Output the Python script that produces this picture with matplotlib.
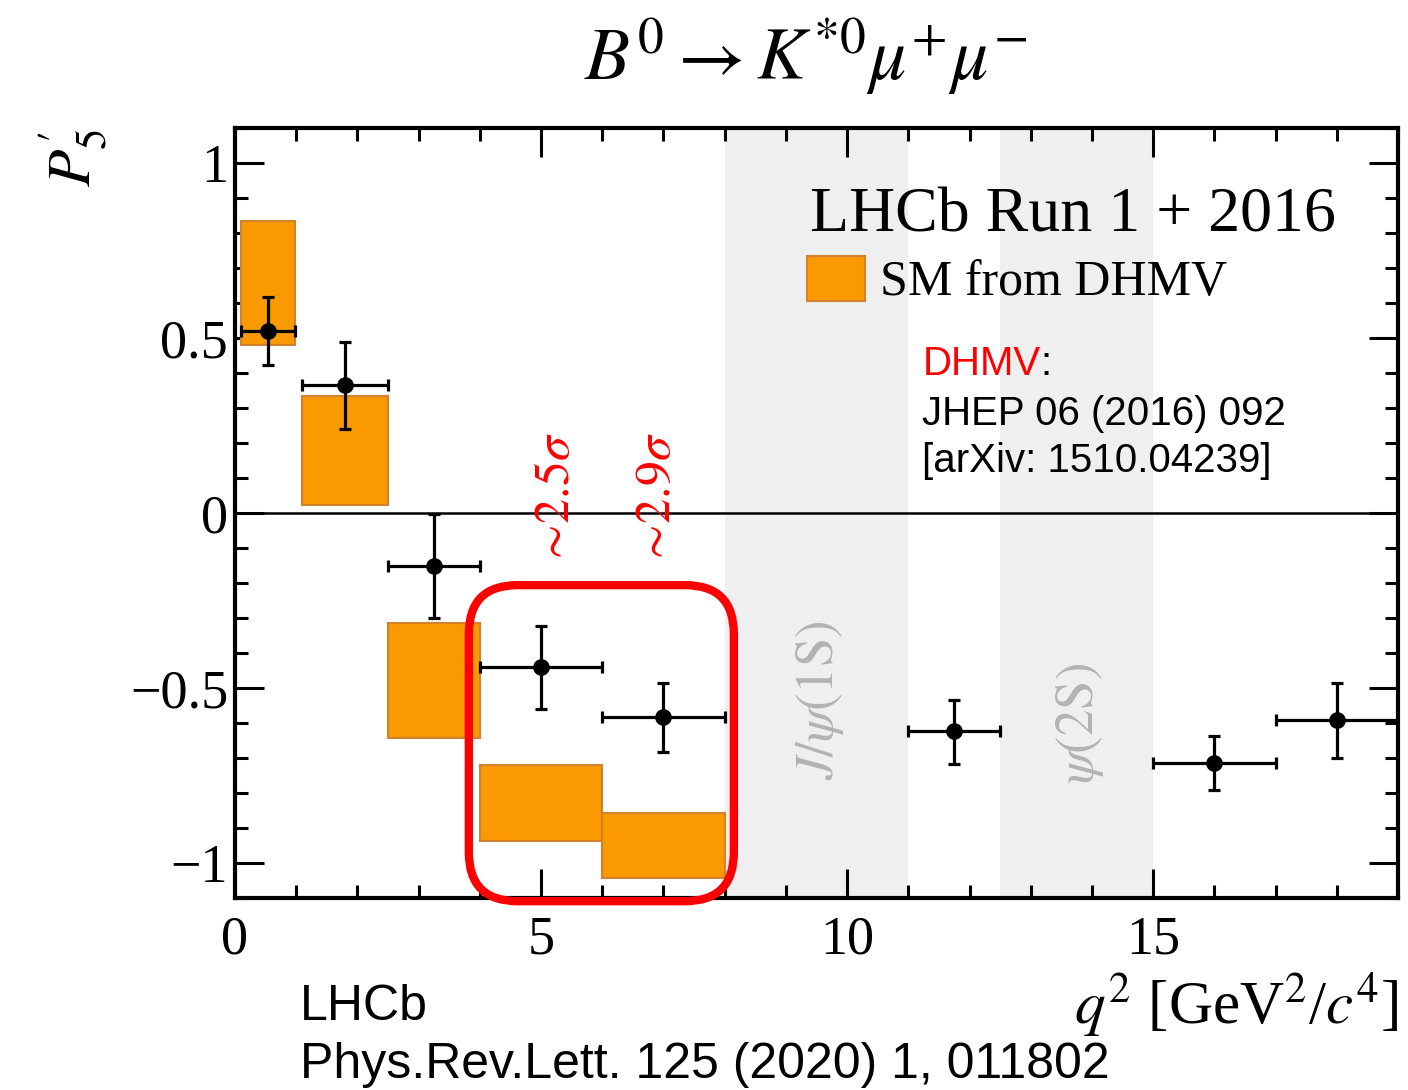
import numpy as np
import matplotlib.pyplot as plt
from matplotlib.patches import Rectangle, FancyBboxPatch, Patch
from matplotlib.ticker import MultipleLocator

plt.rcParams['font.family'] = ['Liberation Serif', 'DejaVu Serif']
plt.rcParams['mathtext.fontset'] = 'stix'

# LHCb measurement: q2 bins, P5' and asymmetric uncertainties
bin_lo = [0.1, 1.1, 2.5, 4.0, 6.0, 11.0, 15.0, 17.0]
bin_hi = [0.98, 2.5, 4.0, 6.0, 8.0, 12.5, 17.0, 19.0]
p5 = [0.521, 0.365, -0.150, -0.439, -0.583, -0.622, -0.714, -0.590]
p5_up = [0.097, 0.123, 0.146, 0.117, 0.097, 0.089, 0.077, 0.103]
p5_dn = [0.097, 0.126, 0.149, 0.120, 0.100, 0.095, 0.077, 0.109]

# SM prediction from DHMV (band per bin)
sm_lo = [0.1, 1.1, 2.5, 4.0, 6.0]
sm_hi = [0.98, 2.5, 4.0, 6.0, 8.0]
sm_min = [0.479, 0.023, -0.644, -0.937, -1.043]
sm_max = [0.835, 0.333, -0.313, -0.720, -0.857]

# charmonium veto regions
veto_lo = [8.0, 12.5]
veto_hi = [11.0, 15.0]
veto_labels = [r'$J/\psi(1\mathrm{S})$', r'$\psi(2\mathrm{S})$']
veto_label_y = [-0.535, -0.60]

# tension labels
sig_x = [5.25, 6.9]
sig_labels = [r'$\sim\!2.5\sigma$', r'$\sim\!2.9\sigma$']

yticks = [-1, -0.5, 0, 0.5, 1]
yticklabels = ['\u22121', '\u22120.5', '0', '0.5', '1']

orange = '#fa9900'
orange_edge = '#d2822e'

fig = plt.figure(figsize=(14.08, 10.9), dpi=100)
ax = fig.add_axes([0.1669, 0.1761, 0.8260, 0.7065])

# grey veto bands
for lo, hi, lab, ly in zip(veto_lo, veto_hi, veto_labels, veto_label_y):
    ax.axvspan(lo, hi, color='#efefef', lw=0, zorder=0)
    ax.text(lo + 0.52 * (hi - lo), ly, lab, rotation=90, ha='center', va='center',
            fontsize=38, color='#b3b3b3', zorder=1)

# SM boxes
for lo, hi, ymin, ymax in zip(sm_lo, sm_hi, sm_min, sm_max):
    ax.add_patch(Rectangle((lo, ymin), hi - lo, ymax - ymin, facecolor=orange,
                           edgecolor=orange_edge, lw=1.5, zorder=2))

ax.axhline(0, color='k', lw=1.8, zorder=3)

# data points
bin_lo = np.array(bin_lo)
bin_hi = np.array(bin_hi)
x = (bin_lo + bin_hi) / 2
ax.errorbar(x, p5, xerr=[x - bin_lo, bin_hi - x], yerr=[p5_dn, p5_up], fmt='o',
            color='k', ms=11, lw=2.3, capsize=4, capthick=2.3, zorder=5)

# red highlight box
ax.add_patch(FancyBboxPatch((3.82, -1.109), 8.15 - 3.82, -0.206 + 1.109,
                            boxstyle='round,pad=0,rounding_size=0.8',
                            mutation_aspect=0.175, facecolor='none',
                            edgecolor='#ff0000', lw=6, clip_on=False, zorder=6))
for sx, sl in zip(sig_x, sig_labels):
    ax.text(sx, -0.15, sl, rotation=90, ha='center', va='bottom', fontsize=36,
            color='#ff0000')

ax.set_xlim(0, 19)
ax.set_ylim(-1.1, 1.1)
ax.xaxis.set_major_locator(MultipleLocator(5))
ax.xaxis.set_minor_locator(MultipleLocator(1))
ax.set_yticks(yticks)
ax.set_yticklabels(yticklabels)
ax.yaxis.set_minor_locator(MultipleLocator(0.1))
ax.tick_params(which='both', direction='in', top=True, right=True, width=2.2)
ax.tick_params(which='major', length=21)
ax.tick_params(which='minor', length=9.5)
ax.tick_params(axis='x', labelsize=39, pad=12)
ax.tick_params(axis='y', labelsize=39, pad=5)
for sp in ax.spines.values():
    sp.set_linewidth(3)

ax.set_xlabel(r'$q^{2}$ [GeV$^{2}$/$c^{4}$]', fontsize=44, loc='right', labelpad=4)
fig.text(0.052, 0.882, r"$P_{5}'$", rotation=90, ha='center', va='top', fontsize=44)
fig.text(0.572, 0.927, r'$B^{0}\rightarrow K^{*0}\mu^{+}\mu^{-}$', ha='center',
         va='baseline', fontsize=53)

# legend block
ax.text(0.494, 0.865, 'LHCb Run 1 + 2016', transform=ax.transAxes, fontsize=46,
        va='baseline')
ax.legend(handles=[Patch(facecolor=orange, edgecolor=orange_edge, lw=1.5)],
          labels=['SM from DHMV'], loc='upper left', bbox_to_anchor=(0.492, 0.834),
          frameon=False, fontsize=36, handlelength=1.15, handleheight=1.0,
          handletextpad=0.3, borderpad=0, borderaxespad=0)

t = ax.text(0.591, 0.679, 'DHMV', transform=ax.transAxes, fontsize=29,
            family='Liberation Sans', color='#ff0000', va='baseline')
ax.annotate(':', xy=(1, 0), xycoords=t, fontsize=29, family='Liberation Sans',
            va='bottom')
ax.text(0.591, 0.614, 'JHEP 06 (2016) 092', transform=ax.transAxes, fontsize=29,
        family='Liberation Sans', va='baseline')
ax.text(0.591, 0.553, '[arXiv: 1510.04239]', transform=ax.transAxes, fontsize=29,
        family='Liberation Sans', va='baseline')

fig.text(0.213, 0.064, 'LHCb', fontsize=36, family='Liberation Sans', va='baseline')
fig.text(0.213, 0.011, 'Phys.Rev.Lett. 125 (2020) 1, 011802', fontsize=36,
         family='Liberation Sans', va='baseline')

fig.savefig('out.png', dpi=100)
